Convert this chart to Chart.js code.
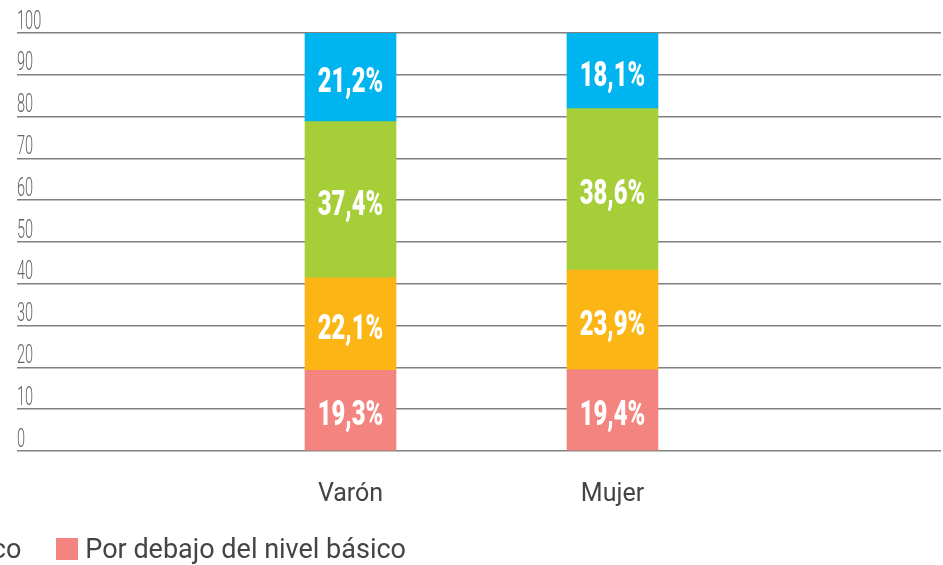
<!DOCTYPE html>
<html lang="es">
<head>
<meta charset="utf-8">
<title>Niveles de logro por sexo</title>
<script src="https://cdn.jsdelivr.net/npm/chart.js@4.4.1/dist/chart.umd.min.js"></script>
<style>
  html, body { margin:0; padding:0; background:#fff; overflow:hidden; }
  #wrap { position:relative; width:943px; height:565px; }
  #legend {
    position:absolute; right:537px; top:533px;
    display:flex; white-space:nowrap; gap:35px;
    font-family:Roboto, sans-serif; font-size:27px; color:#444;
  }
  #legend .item { display:flex; align-items:center; }
  #legend .box { width:22px; height:22px; margin-right:7px; flex:none; }
</style>
</head>
<body>
<div id="wrap">
  <canvas id="chart" width="943" height="565"></canvas>
  <div id="legend"></div>
</div>
<script>
// Distribución por nivel de logro, según sexo (%)
const categories = ['Varón', 'Mujer'];
const levels = ['Por debajo del nivel básico', 'Básico', 'Satisfactorio', 'Avanzado'];
const colors = ['#F4847F', '#FBB616', '#A6CE39', '#00B5EF'];
const porDebajo = [19.3, 19.4];
const basico = [22.1, 23.9];
const satisfactorio = [37.4, 38.6];
const avanzado = [21.2, 18.1];
const yTicks = [0, 10, 20, 30, 40, 50, 60, 70, 80, 90, 100];

const series = [porDebajo, basico, satisfactorio, avanzado];

// condensed text: no condensed face installed, so squeeze horizontally
function narrowText(ctx, txt, x, y, sx) {
  ctx.save();
  ctx.translate(x, y);
  ctx.scale(sx, 1);
  ctx.fillText(txt, 0, 0);
  ctx.restore();
}

// y tick labels sit above their gridline, at the left edge
const yLabels = {
  id: 'yLabels',
  afterDraw(chart) {
    const ctx = chart.ctx;
    const y = chart.scales.y;
    ctx.save();
    ctx.fillStyle = '#666';
    ctx.font = '300 26px Roboto, sans-serif';
    ctx.textAlign = 'left';
    ctx.textBaseline = 'alphabetic';
    y.ticks.forEach(t => {
      narrowText(ctx, String(t.value), chart.chartArea.left, y.getPixelForValue(t.value) - 4.5, 0.56);
    });
    ctx.restore();
  }
};

// bar values written inside each segment
const insideLabels = {
  id: 'insideLabels',
  afterDatasetsDraw(chart) {
    const ctx = chart.ctx;
    ctx.save();
    ctx.fillStyle = '#fff';
    ctx.font = '900 35px Roboto, sans-serif';
    ctx.textAlign = 'center';
    ctx.textBaseline = 'alphabetic';
    chart.data.datasets.forEach((ds, i) => {
      chart.getDatasetMeta(i).data.forEach((bar, j) => {
        const v = ds.data[j].y;
        const txt = v.toFixed(1).replace('.', ',') + '%';
        narrowText(ctx, txt, bar.x, (bar.y + bar.base) / 2 + 15, 0.68);
      });
    });
    ctx.restore();
  }
};

const datasets = levels.map((name, i) => ({
  label: name,
  data: series[i].map((v, j) => ({x: j + 1, y: v})),
  backgroundColor: colors[i],
  borderWidth: 0,
  barThickness: 91
}));

new Chart(document.getElementById('chart'), {
  type: 'bar',
  data: {datasets},
  options: {
    responsive: false,
    animation: false,
    layout: {padding: {left: 17, right: 2, top: 33, bottom: 34}},
    plugins: {legend: {display: false}, tooltip: {enabled: false}},
    scales: {
      x: {
        type: 'linear',
        stacked: true,
        offset: false,
        min: -0.273,
        max: 3.254,
        afterBuildTicks: s => { s.ticks = categories.map((c, i) => ({value: i + 1})); },
        grid: {display: false},
        border: {display: false},
        ticks: {
          padding: 21,
          color: '#444',
          font: {family: 'Roboto', size: 25},
          callback: v => categories[v - 1]
        }
      },
      y: {
        stacked: true,
        min: 0,
        max: 100,
        afterBuildTicks: s => { s.ticks = yTicks.map(v => ({value: v})); },
        border: {display: false},
        grid: {color: '#808080', lineWidth: 1.5, drawTicks: false},
        ticks: {display: false}
      }
    }
  },
  plugins: [insideLabels, yLabels]
});

// legend (the left part runs past the page edge, as in the original)
const legend = document.getElementById('legend');
levels.slice().reverse().forEach((name, k) => {
  const i = levels.length - 1 - k;
  const item = document.createElement('div');
  item.className = 'item';
  item.innerHTML = '<span class="box" style="background:' + colors[i] + '"></span><span>' + name + '</span>';
  legend.appendChild(item);
});
</script>
</body>
</html>
